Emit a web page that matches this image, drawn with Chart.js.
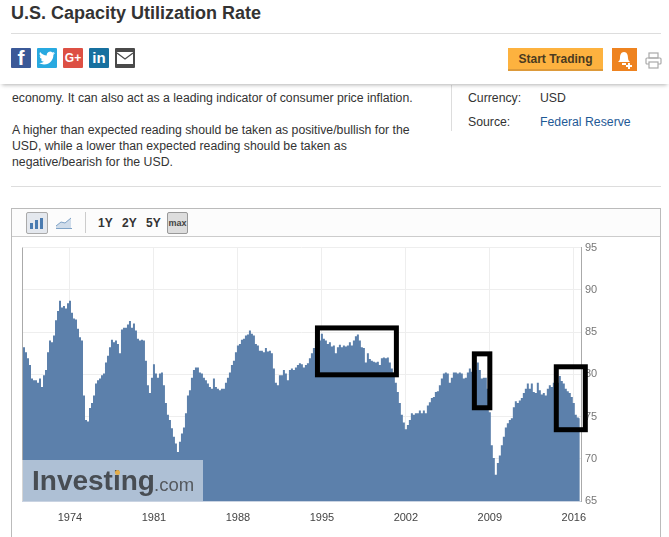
<!DOCTYPE html>
<html>
<head>
<meta charset="utf-8">
<title>U.S. Capacity Utilization Rate</title>
<script src="https://cdn.jsdelivr.net/npm/chart.js@4/dist/chart.umd.min.js"></script>
<style>
body { margin: 0; background: #fff; font-family: "Liberation Sans", Arial, sans-serif; color: #333; overflow: hidden; }
#page { position: relative; width: 669px; height: 537px; overflow: hidden; }
#page > * { position: absolute; }
.txt { font-size: 12.28px; white-space: nowrap; line-height: 16px; }
.rule { background: #ddd; height: 1px; }
.soc { top: 48px; width: 20px; height: 20px; color: #fff; font-weight: bold; text-align: center; line-height: 20px; border-radius: 1px; }
#bar { left: 0; top: 44px; width: 669px; height: 40px; background: #fff; box-shadow: 0 3px 4px -2px rgba(0,0,0,.3); }
.range { top: 214px; font-size: 12px; font-weight: bold; line-height: 18px; color: #333; }
#chartBox { left: 11px; top: 208px; width: 650px; height: 340px; border: 1px solid #bbb; box-sizing: border-box; }
#toolbar { left: 12px; top: 209px; width: 648px; height: 27px; background: #fcfcfc; border-bottom: 1px solid #ccc; }
#trafficCanvas { left: 12px; top: 237px; }
#mark { left: 22px; top: 460px; width: 181px; height: 41px; background: rgba(255,255,255,.5); }
#mark span { position: absolute; white-space: nowrap; }
</style>
</head>
<body>
<div id="page">
  <div class="txt" style="left:11px;top:2px;font-size:18px;font-weight:bold;line-height:22px;">U.S. Capacity Utilization Rate</div>
  <div class="txt" style="left:12px;top:90px;">economy. It can also act as a leading indicator of consumer price inflation.</div>
  <div class="txt" style="left:12px;top:122px;">A higher than expected reading should be taken as positive/bullish for the</div>
  <div class="txt" style="left:12px;top:138px;">USD, while a lower than expected reading should be taken as</div>
  <div class="txt" style="left:12px;top:154px;">negative/bearish for the USD.</div>
  <div class="txt" style="left:468px;top:90px;">Currency:</div>
  <div class="txt" style="left:540px;top:90px;">USD</div>
  <div class="txt" style="left:468px;top:114px;">Source:</div>
  <div class="txt" style="left:540px;top:114px;color:#1f5a96;">Federal Reserve</div>
  <div style="left:451px;top:85px;width:1px;height:46px;background:#ddd;"></div>
  <div class="rule" style="left:11px;top:186px;width:650px;"></div>

  <div id="bar"></div>
  <div class="rule" style="left:11px;top:33px;width:650px;"></div>
  <div class="soc" style="left:11px;background:#3b5998;font-size:21px;">f</div>
  <div class="soc" style="left:37px;background:#28a9e0;">
    <svg width="16" height="16" viewBox="0 0 24 24" style="margin-top:2px"><path fill="#fff" d="M23.95 4.57a10 10 0 0 1-2.82.78 4.96 4.96 0 0 0 2.16-2.72 9.9 9.9 0 0 1-3.13 1.19 4.92 4.92 0 0 0-8.39 4.49A13.98 13.98 0 0 1 1.67 3.15a4.92 4.92 0 0 0 1.52 6.57 4.9 4.9 0 0 1-2.23-.62v.06a4.92 4.92 0 0 0 3.95 4.83 4.9 4.9 0 0 1-2.22.08 4.93 4.93 0 0 0 4.6 3.42A9.87 9.87 0 0 1 0 19.54a13.94 13.94 0 0 0 7.55 2.21c9.05 0 14-7.5 14-13.98 0-.21 0-.42-.02-.63a10 10 0 0 0 2.46-2.55z"/></svg>
  </div>
  <div class="soc" style="left:63px;background:#dd5044;font-size:12px;">G+</div>
  <div class="soc" style="left:89px;background:#17709f;font-size:15px;">in</div>
  <div class="soc" style="left:115px;background:#4a4a4a;">
    <svg width="18" height="14" viewBox="0 0 18 14" style="margin-top:3px"><rect x="1" y="1" width="16" height="12" fill="#fff"/><path d="M1 2 L9 8 L17 2" fill="none" stroke="#4a4a4a" stroke-width="1.2"/></svg>
  </div>
  <div style="left:508px;top:48px;width:95px;height:21px;background:#fdb23f;border-bottom:2px solid #dd9a3a;text-align:center;font-size:12px;font-weight:bold;line-height:22px;color:#4a3a20;">Start Trading</div>
  <div style="left:612px;top:48px;width:25px;height:23px;background:#ee8320;">
    <svg width="25" height="23" viewBox="0 0 25 23"><path fill="#fff" d="M12 4c3 0 4 3 4 6 0 2 1 3 2 4H6c1-1 2-2 2-4 0-3 1-6 4-6z"/><rect x="10" y="15" width="4" height="2" fill="#fff"/><path stroke="#fff" stroke-width="2" d="M14 18h6M17 15v6"/></svg>
  </div>
  <svg style="left:645px;top:52px;" width="17" height="18" viewBox="0 0 17 18"><g fill="none" stroke="#aaa" stroke-width="1.2"><rect x="4" y="1" width="9" height="5"/><rect x="1" y="6" width="15" height="6" rx="1"/><rect x="4" y="10" width="9" height="6" fill="#fff"/></g></svg>

  <div id="chartBox"></div>
  <div id="toolbar"></div>
  <div style="left:26px;top:212px;width:20px;height:20px;background:#e4e8ee;border:1px solid #aaa;border-radius:2px;">
    <svg width="20" height="20" viewBox="0 0 20 20"><path fill="#4a7bb0" d="M3 10h3v6H3zM8 7h3v9H8zM13 5h3v11h-3z"/></svg>
  </div>
  <svg style="left:55px;top:214px;" width="18" height="16" viewBox="0 0 18 16"><path fill="#cfdcea" d="M1 12 L6 8 L10 9 L16 4 V14 H1z"/><path fill="none" stroke="#7fa3c7" d="M1 12 L6 8 L10 9 L16 4"/><path stroke="#7fa3c7" d="M1 14.5H17"/></svg>
  <div style="left:85px;top:212px;width:1px;height:21px;background:#ccc;"></div>
  <div class="range" style="left:98px;">1Y</div>
  <div class="range" style="left:122px;">2Y</div>
  <div class="range" style="left:146px;">5Y</div>
  <div style="left:167px;top:212px;width:19px;height:20px;background:#ddd;border:1px solid #999;border-radius:2px;font-size:9px;font-weight:bold;text-align:center;line-height:20px;color:#444;">max</div>

  <canvas id="trafficCanvas" width="647" height="300"></canvas>

  <div id="mark">
    <span style="left:10px;top:5px;font-size:28px;font-weight:bold;color:#484d53;letter-spacing:0;">Investing</span>
    <span style="left:93px;top:10px;width:5px;height:5px;border-radius:50%;background:#e5ae4a;"></span>
    <span style="left:132px;top:14px;font-size:18.5px;color:#55595e;">.com</span>
  </div>
</div>

<script>
// Tahun awal dan jarak antar titik (dua bulan)
const startYear = 1970;
const stepYears = 2 / 12;
const endYear = 2016.6;

// Nilai, tiap dua bulan
const utilization1970s = [
  85.4, 83.2, 82.6, 81.9, 81.1, 79.5, 79.3, 79.3, 79.0, 79.5, 78.5, 79.9,
  80.5, 82.6, 84.0, 83.8, 84.6, 86.4, 87.5, 88.7, 87.9, 88.1, 87.8, 88.4,
  88.7, 87.3, 86.6, 86.5, 85.4, 84.4, 84.0, 77.5, 74.6, 74.4, 76.0, 76.6,
  77.5, 78.9, 79.3, 79.5, 79.9, 80.1, 81.4, 82.2, 83.2, 84.1, 83.8, 84.0,
  83.6, 82.5, 85.3, 85.5, 85.5, 85.9, 86.3, 85.5, 86.0, 85.2, 84.2, 84.0
];
const utilization1980s = [
  84.1, 84.0, 81.6, 78.7, 77.8, 79.6, 81.2, 80.1, 79.6, 80.1, 80.2, 78.7,
  76.6, 75.2, 74.6, 73.6, 72.6, 71.8, 70.8, 72.0, 73.0, 73.7, 75.4, 77.5,
  78.1, 79.6, 80.5, 80.8, 80.8, 80.2, 80.1, 79.6, 79.3, 78.9, 78.5, 78.3,
  79.5, 78.5, 78.3, 78.1, 78.3, 78.3, 79.0, 79.6, 80.2, 81.1, 81.6, 82.6,
  83.4, 83.6, 84.1, 84.2, 84.6, 84.7, 85.2, 84.8, 84.6, 83.6, 83.4, 82.8
];
const utilization1990s = [
  82.8, 82.6, 83.1, 82.7, 82.8, 82.5, 80.7, 79.0, 78.7, 79.9, 79.9, 80.5,
  80.1, 79.3, 80.5, 80.7, 80.5, 80.8, 81.1, 81.3, 81.2, 80.8, 81.1, 81.3,
  81.9, 82.5, 83.1, 84.0, 83.8, 84.0, 84.8, 84.2, 84.0, 83.6, 83.8, 83.3,
  83.4, 82.5, 83.2, 83.5, 83.2, 83.4, 83.3, 83.4, 83.8, 83.4, 84.0, 84.5,
  84.7, 84.0, 83.2, 83.1, 81.4, 82.5, 81.8, 81.6, 81.5, 81.4, 81.5, 81.1
];
const utilization2000s = [
  81.9, 82.0, 81.9, 82.0, 81.4, 80.7, 80.1, 79.0, 77.9, 76.6, 75.2, 74.3,
  73.5, 74.0, 74.6, 75.4, 75.2, 75.4, 75.4, 75.7, 75.4, 75.7, 75.4, 76.3,
  76.7, 77.2, 77.3, 77.9, 78.0, 78.7, 79.5, 80.1, 80.2, 80.1, 79.0, 79.6,
  80.2, 80.2, 80.1, 80.2, 80.1, 79.5, 79.6, 80.2, 80.7, 80.3, 80.5, 80.5,
  81.4, 80.5, 79.5, 79.6, 79.6, 78.3, 75.5, 71.6, 70.1, 68.1, 69.5, 70.4
];
const utilization2010s = [
  71.6, 72.6, 73.7, 74.2, 74.6, 74.8, 76.1, 76.8, 76.6, 76.9, 77.2, 77.8,
  78.3, 78.9, 78.3, 78.9, 77.9, 77.8, 79.0, 78.1, 77.6, 77.8, 77.5, 78.3,
  78.7, 78.5, 79.0, 78.8, 79.0, 79.8, 79.2, 78.9, 78.3, 78.0, 77.8, 77.3,
  76.6, 75.2, 74.9, 74.8
];
const utilization = [...utilization1970s, ...utilization1980s, ...utilization1990s, ...utilization2000s, ...utilization2010s];

// Label sumbu
const yearTicks = [1974, 1981, 1988, 1995, 2002, 2009, 2016];
const rateTicks = [65, 70, 75, 80, 85, 90, 95];

// Kotak hitam yang digambar di atas grafik: tahun dan persen
const boxFrom = [1994.63, 2007.71, 2014.54];
const boxTo = [2001.21, 2009.0, 2016.96];
const boxTop = [85.49, 82.42, 80.89];
const boxBottom = [79.94, 76.04, 73.44];

let points = utilization.map((v, i) => ({ x: startYear + i * stepYears, y: v }));

// Garis kiri plot dan kotak hitam
const overlayPlugin = {
    id: 'overlay',
    afterDatasetsDraw(chart) {
        let c = chart.ctx, a = chart.chartArea, x = chart.scales.x, y = chart.scales.y;
        c.save();
        c.strokeStyle = '#aaa';
        c.lineWidth = 1;
        c.beginPath();
        c.moveTo(a.left + 0.5, a.top);
        c.lineTo(a.left + 0.5, a.bottom);
        c.stroke();
        c.strokeStyle = '#000';
        c.lineWidth = 5;
        boxFrom.forEach((from, i) => {
            let left = x.getPixelForValue(from), right = x.getPixelForValue(boxTo[i]);
            let top = y.getPixelForValue(boxTop[i]), bottom = y.getPixelForValue(boxBottom[i]);
            c.strokeRect(left, top, right - left, bottom - top);
        });
        c.restore();
    }
};

let ctx = document.getElementById('trafficCanvas').getContext('2d');

new Chart(ctx, {
    type: 'line',
    data: {
        datasets: [{
            data: points,
            stepped: 'middle',
            fill: 'start',
            backgroundColor: '#5c80ab',
            borderWidth: 0,
            pointRadius: 0
        }]
    },
    options: {
        responsive: false,
        animation: false,
        layout: { padding: { left: 10, top: 10, right: 0, bottom: 0 } },
        plugins: { legend: { display: false }, tooltip: { enabled: false } },
        scales: {
            x: {
                type: 'linear',
                min: startYear,
                max: endYear,
                afterBuildTicks: scale => { scale.ticks = yearTicks.map(v => ({ value: v })); },
                afterFit: scale => { scale.height = 36; },
                grid: { color: '#eee', drawTicks: false },
                border: { color: '#c9d3e2' },
                ticks: {
                    autoSkip: false,
                    maxRotation: 0,
                    padding: 10,
                    color: '#444',
                    font: { family: '"Liberation Sans"', size: 11 },
                    callback: v => String(v)
                }
            },
            y: {
                position: 'right',
                min: 65,
                max: 95,
                afterBuildTicks: scale => { scale.ticks = rateTicks.map(v => ({ value: v })); },
                afterFit: scale => { scale.width = 78; },
                grid: { color: '#eee', drawTicks: false },
                border: { color: '#aaa' },
                ticks: {
                    padding: 4,
                    color: '#777',
                    font: { family: '"Liberation Sans"', size: 11 }
                }
            }
        }
    },
    plugins: [overlayPlugin]
});
</script>
</body>
</html>
